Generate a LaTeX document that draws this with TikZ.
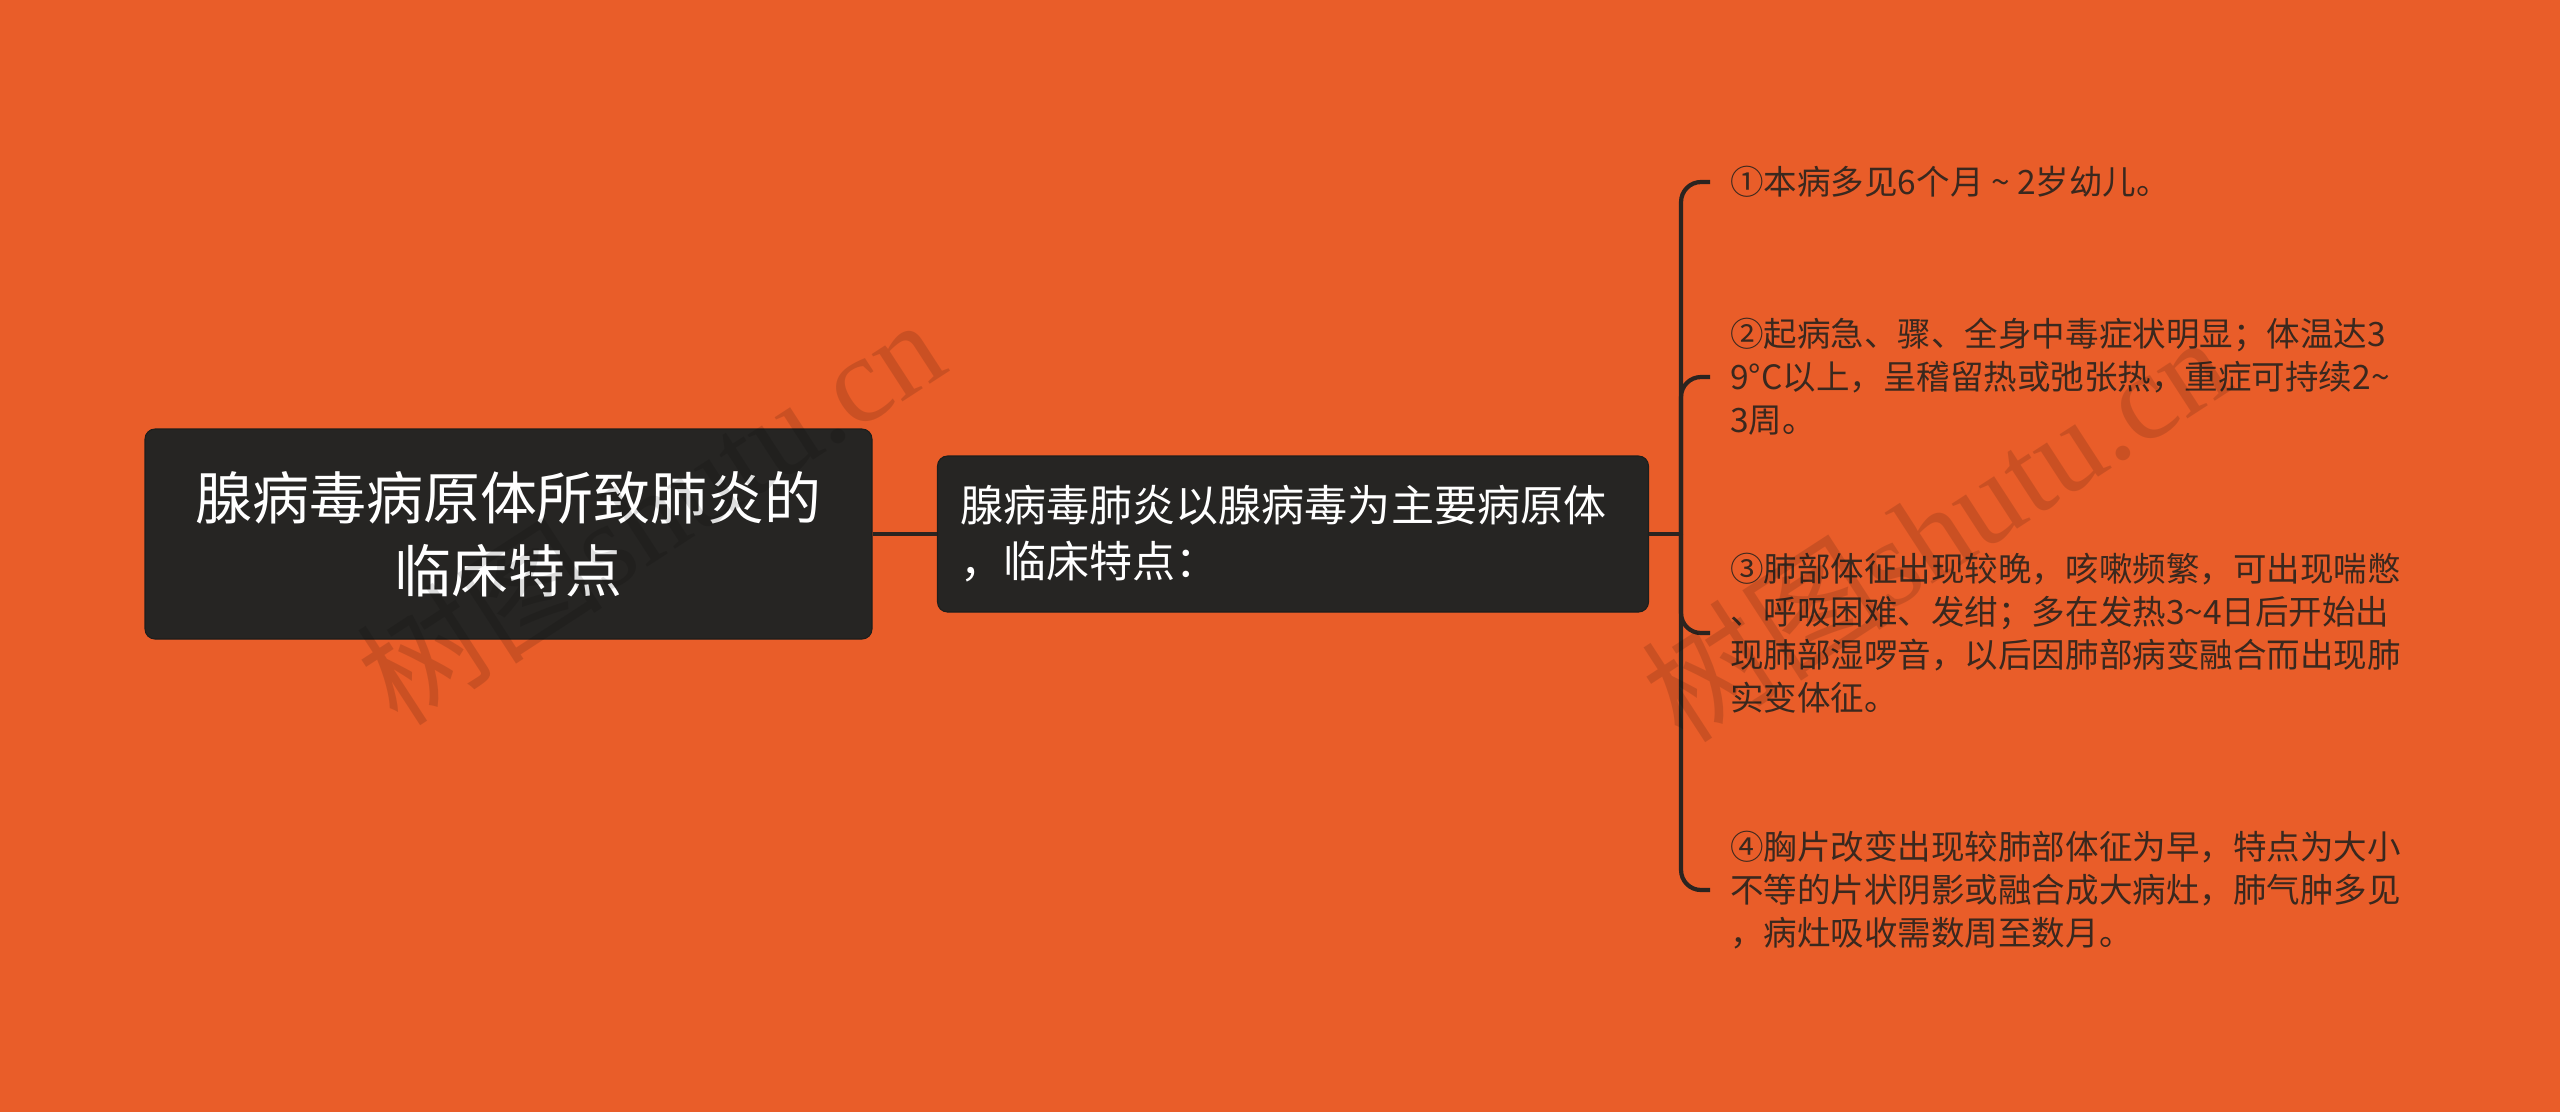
\documentclass[tikz,border=0pt]{standalone}
\usepackage{fontspec}
\usepackage{xcolor}
\usepackage{tikz}
\usetikzlibrary{positioning, calc}
\setmainfont{Noto Sans CJK SC}
\newfontfamily\wmfont{Liberation Serif}
\definecolor{bgorange}{RGB}{233,93,41}
\definecolor{boxdark}{RGB}{38,37,35}
\definecolor{linedark}{RGB}{43,36,32}
\definecolor{leaftext}{RGB}{58,40,30}
\tikzset{
    rootbox/.style={
        rectangle,
        rounded corners=0.2cm,
        fill=boxdark,
        draw=boxdark!80!black,
        line width=0.6pt,
        text=white,
        align=center,
        inner sep=0pt,
        font=\fontsize{32.4}{41.5}\selectfont,
        minimum width=14.54cm,
        minimum height=4.2cm
    },
    subbox/.style={
        rectangle,
        rounded corners=0.2cm,
        fill=boxdark,
        draw=boxdark!80!black,
        line width=0.6pt,
        text=white,
        align=left,
        text width=13.3cm,
        inner xsep=0.46cm,
        font=\fontsize{24.5}{31.9}\selectfont,
        minimum height=3.12cm
    },
    leaf/.style={
        text=leaftext,
        align=left,
        anchor=west,
        inner xsep=0.4cm,
        inner ysep=0pt,
        font=\fontsize{19.07}{24.5}\selectfont
    },
    link/.style={draw=linedark, line width=2.4pt},
    watermark/.style={
        text=black,
        text opacity=0.13,
        inner sep=0pt,
        font=\fontsize{70}{70}\selectfont
    }
}

\begin{document}
\begin{tikzpicture}

% =========================
% Sfondo
% =========================
\fill[bgorange] (0,0) rectangle (51.2,-22.24);

% =========================
% Nodo radice e nodo figlio
% =========================
\node[rootbox] (root) at (10.17,-10.68) {腺病毒病原体所致肺炎的\\临床特点};

\node[subbox] (child) at (25.86,-10.68) {腺病毒肺炎以腺病毒为主要病原体\\，临床特点：};

% =========================
% Foglie
% =========================
\node[leaf] (leafone) at (34.2,-3.64) {①本病多见6个月 \textasciitilde{} 2岁幼儿。};

\node[leaf] (leaftwo) at (34.2,-7.54)
    {②起病急、骤、全身中毒症状明显；体温达3\\9°C以上，呈稽留热或弛张热，重症可持续2\textasciitilde\\3周。};

\node[leaf] (leafthree) at (34.2,-12.66)
    {③肺部体征出现较晚，咳嗽频繁，可出现喘憋\\、呼吸困难、发绀；多在发热3\textasciitilde4日后开始出\\现肺部湿啰音，以后因肺部病变融合而出现肺\\实变体征。};

\node[leaf] (leaffour) at (34.2,-17.8)
    {④胸片改变出现较肺部体征为早，特点为大小\\不等的片状阴影或融合成大病灶，肺气肿多见\\，病灶吸收需数周至数月。};

% =========================
% Collegamenti
% =========================
\draw[link] (root.east) -- (child.west);

\coordinate (spine) at ($(child.east)+(0.64,0)$);
\draw[link] (child.east) -- (spine);

\foreach \leafname in {leafone, leaftwo, leafthree, leaffour}
    \draw[link, rounded corners=0.4cm] (spine) |- (\leafname.west);

% =========================
% Filigrana
% =========================
\node[watermark, rotate=33] (wmleft) at (13.0,-10.2) {树图{\wmfont shutu.cn}};
\node[watermark, rotate=33] (wmright) at (38.7,-10.54) {树图{\wmfont shutu.cn}};

\end{tikzpicture}
\end{document}
